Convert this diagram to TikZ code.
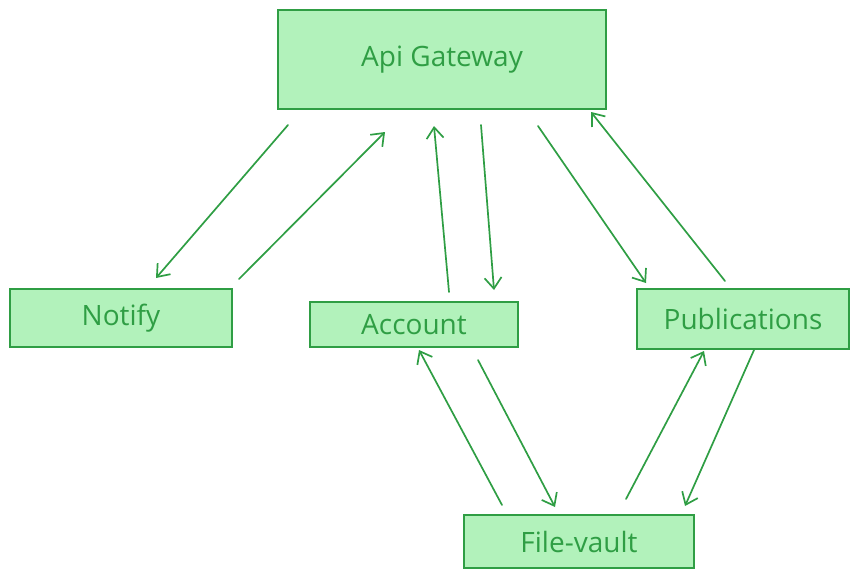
\documentclass[tikz,border=0pt]{standalone}
\usepackage{fontspec}
\setmainfont{Open Sans}
\usetikzlibrary{arrows.meta}
\definecolor{strk}{HTML}{2F9E44}
\definecolor{fll}{HTML}{B2F2BB}
\tikzset{
  box/.style={draw=strk, fill=fll, line width=2pt, inner sep=0pt, text=strk,
    font=\fontsize{28}{32}\selectfont},
  arr/.style={draw=strk, line width=1.7pt, line cap=round,
    -{Straight Barb[length=11pt,width=17pt,line width=1.7pt]}}
}
\begin{document}
\begin{tikzpicture}[x=1pt,y=-1pt]
\useasboundingbox (0,0) rectangle (858,579);
\node[box, minimum width=328pt, minimum height=99pt] (gw) at (442,59.5) {Api Gateway};
\node[box, minimum width=222pt, minimum height=58pt] (nt) at (121,318) {Notify};
\node[box, minimum width=208pt, minimum height=45pt] (ac) at (414,324.5) {Account};
\node[box, minimum width=212pt, minimum height=60pt] (pb) at (743,319) {Publications};
\node[box, minimum width=230pt, minimum height=53pt] (fv) at (579,541.5) {File-vault};
\draw[arr] ([shift={(11,15)}]gw.south west) -- ([shift={(35,-10)}]nt.north);
\draw[arr] ([shift={(6,-9)}]nt.north east) -- ([shift={(108,22)}]gw.south west);
\draw[arr] ([shift={(35,-9)}]ac.north) -- ([shift={(-8,16)}]gw.south);
\draw[arr] ([shift={(39,15)}]gw.south) -- ([shift={(80,-11)}]ac.north);
\draw[arr] ([shift={(96,16)}]gw.south) -- ([shift={(10,-5)}]pb.north west);
\draw[arr] ([shift={(-18,-7)}]pb.north) -- ([shift={(-16,2)}]gw.south east);
\draw[arr] ([shift={(39,-9)}]fv.north west) -- ([shift={(5,2)}]ac.south);
\draw[arr] ([shift={(64,12)}]ac.south) -- ([shift={(92,-7)}]fv.north west);
\draw[arr] ([shift={(163,-15)}]fv.north west) -- ([shift={(-39,1)}]pb.south);
\draw[arr] ([shift={(11,0)}]pb.south) -- ([shift={(-10,-8)}]fv.north east);
\end{tikzpicture}
\end{document}
